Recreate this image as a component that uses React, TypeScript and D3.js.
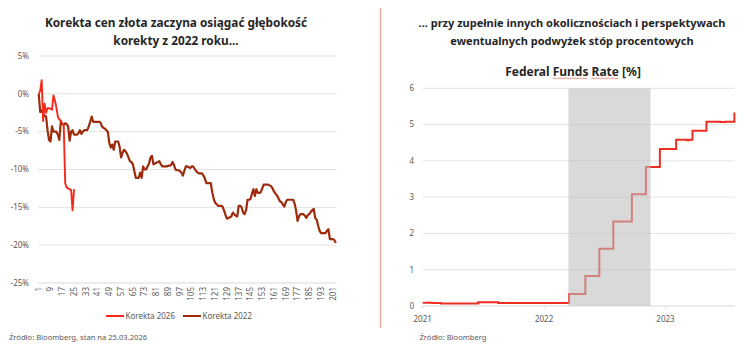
import React, { useLayoutEffect, useRef, useState } from "react";
import * as d3 from "d3";

// ---------- LEFT CHART DATA ----------
const korekta2026 = [
  0, 0.4, 1.8, -3.6, -1.3, -2.5, -1.9, -1.9, -2.0, -2.1,
  -0.2, -0.9, -1.8, -3.0, -3.4, -3.5, -3.9, -4.2, -11.8, -12.4,
  -12.5, -12.6, -12.7, -15.4, -12.6,
];

const korekta2022 = [
  0, -2.4, -2.2, -2.6, -2.9, -3.0, -4.8, -6.1, -6.3, -4.3,
  -5.0, -5.0, -5.0, -5.4, -6.1, -3.7, -4.0, -4.1, -3.9, -4.0,
  -4.3, -6.2, -5.0, -4.8, -5.4, -5.4, -5.4, -5.2, -4.8, -5.3,
  -5.0, -4.8, -4.8, -4.8, -4.3, -3.7, -3.0, -3.7, -3.7, -3.7,
  -3.7, -3.7, -3.8, -4.3, -4.5, -4.6, -4.8, -5.0, -6.5, -7.1,
  -6.7, -7.4, -6.3, -6.3, -6.3, -7.0, -8.4, -7.8, -7.4, -7.6,
  -7.9, -8.4, -8.9, -9.0, -9.3, -10.2, -11.1, -11.1, -11.1, -10.4,
  -11.1, -9.6, -10.0, -10.0, -9.6, -9.2, -8.4, -8.2, -9.3, -9.2,
  -9.1, -9.0, -8.9, -9.3, -9.6, -9.6, -9.6, -9.6, -9.5, -9.5,
  -9.4, -9.0, -9.4, -10.0, -10.1, -10.1, -10.2, -10.4, -10.8, -10.2,
  -9.6, -9.6, -9.7, -9.8, -9.6, -9.6, -9.9, -10.2, -10.4, -10.5,
  -10.5, -10.5, -10.8, -11.2, -11.8, -11.8, -11.8, -11.8, -13.0, -13.9,
  -14.4, -14.6, -14.8, -14.8, -14.8, -14.9, -15.4, -16.0, -16.5, -16.4,
  -16.3, -16.2, -15.7, -15.9, -16.1, -16.2, -14.8, -14.8, -15.0, -15.7,
  -15.9, -15.4, -14.0, -14.0, -13.9, -13.2, -12.6, -13.5, -12.6, -13.1,
  -13.1, -13.0, -12.5, -12.0, -12.0, -12.0, -12.0, -12.1, -12.2, -12.5,
  -12.9, -13.2, -13.4, -13.8, -14.2, -14.3, -14.6, -14.9, -14.3, -14.0,
  -14.0, -14.0, -14.0, -14.0, -14.5, -15.4, -16.8, -16.2, -15.9, -15.9,
  -15.9, -16.1, -16.4, -16.0, -15.9, -15.6, -15.4, -15.2, -16.4, -16.6,
  -17.4, -18.1, -18.4, -18.4, -18.4, -18.4, -18.1, -17.9, -19.2, -19.2,
  -19.2, -19.3, -19.7,
];

const dayCategories = korekta2022.map((_, i) => String(i + 1));
const leftXTickLabels = [
  "1", "9", "17", "25", "33", "41", "49", "57", "65", "73", "81", "89", "97",
  "105", "113", "121", "129", "137", "145", "153", "161", "169", "177", "185",
  "193", "201",
];
const leftYTicks = [5, 0, -5, -10, -15, -20, -25];
const leftSeriesNames = ["Korekta 2026", "Korekta 2022"];

// ---------- RIGHT CHART DATA ----------
const fedDates = [
  "2021-01-01", "2021-01-29", "2021-02-25", "2021-06-17", "2021-08-16",
  "2022-03-17", "2022-05-05", "2022-06-16", "2022-07-28", "2022-09-22",
  "2022-11-03", "2022-12-15", "2023-02-02", "2023-03-06", "2023-03-13",
  "2023-03-23", "2023-05-04", "2023-06-15", "2023-06-29", "2023-07-27",
];
const fedValues = [
  0.09, 0.08, 0.07, 0.1, 0.08,
  0.33, 0.83, 1.58, 2.33, 3.08,
  3.83, 4.33, 4.58, 4.57, 4.58,
  4.83, 5.08, 5.07, 5.08, 5.33,
];
const shadePeriod = ["2022-03-15", "2022-11-17"];
const rightDomain = ["2021-01-01", "2023-07-28"];
const rightYTicks = [0, 1, 2, 3, 4, 5, 6];
const rightXTicks = ["2021", "2022", "2023"];

const FONT = "'Noto Sans', 'Open Sans', sans-serif";
const GREY_TXT = "#595959";
const GRID = "#e3e3e3";
const RED = "#f32a1c";
const DARK = "#9d2b0c";
const FED_RED = "#ee2e22";

const parse = d3.timeParse("%Y-%m-%d");

const FED_TITLE = "Federal Funds Rate [%]";
const SPELL_WORDS = [
  [8, 12],
  [14, 17],
];

export default function App() {
  const fedRef = useRef<SVGTextElement>(null);
  const [squiggles, setSquiggles] = useState<string[]>([]);

  useLayoutEffect(() => {
    const el = fedRef.current;
    if (!el) return;
    const paths: string[] = [];
    SPELL_WORDS.forEach(([a, b]) => {
      const p0 = el.getStartPositionOfChar(a).x;
      const p1 = el.getEndPositionOfChar(b).x;
      const y = 78.8;
      let d = `M${p0},${y}`;
      let up = true;
      for (let x = p0 + 1.5; x <= p1; x += 1.5) {
        d += `L${x},${up ? y - 0.9 : y}`;
        up = !up;
      }
      paths.push(d);
    });
    setSquiggles(paths);
  }, []);

  // Left scales
  const xL = d3.scaleBand<string>().domain(dayCategories).range([38, 336.5]);
  const cx = (i: number) => (xL(String(i + 1)) as number) + xL.bandwidth() / 2;
  const yL = d3.scaleLinear().domain([-25, 5]).range([283, 56]);
  const lineL = d3
    .line<number>()
    .x((_, i) => cx(i))
    .y((d) => yL(d));

  // Right scales
  const xR = d3
    .scaleTime()
    .domain(rightDomain.map((s) => parse(s) as Date))
    .range([422.7, 734.7]);
  const yR = d3.scaleLinear().domain([0, 6]).range([306, 88.3]);
  const fedPts = fedDates.map((d, i) => ({ d: parse(d) as Date, v: fedValues[i] }));
  const lineR = d3
    .line<{ d: Date; v: number }>()
    .x((p) => xR(p.d))
    .y((p) => yR(p.v))
    .curve(d3.curveStepAfter);
  const s0 = xR(parse(shadePeriod[0]) as Date);
  const s1 = xR(parse(shadePeriod[1]) as Date);

  return (
    <svg
      width={756}
      height={345}
      style={{ position: "absolute", left: 0, top: 0, background: "#fff" }}
      fontFamily={FONT}
    >
      <rect x={0} y={0} width={756} height={345} fill="#fff" />

      {/* LEFT TITLE */}
      <text textAnchor="middle" fontWeight="bold" fontSize={11.8} fill="#262626">
        <tspan x={176} y={26.5}>Korekta cen złota zaczyna osiągać głębokość</tspan>
        <tspan x={176} y={44.5}>korekty z 2022 roku...</tspan>
      </text>

      {/* LEFT GRID */}
      {leftYTicks.map((t) => (
        <g key={"ly" + t}>
          <line x1={38} x2={336.5} y1={yL(t)} y2={yL(t)} stroke={t === -25 ? "#d9d9d9" : GRID} strokeWidth={1} />
          <text x={29} y={yL(t)} dy="0.35em" textAnchor="end" fontSize={8} fill={GREY_TXT}>
            {t + "%"}
          </text>
        </g>
      ))}
      {leftXTickLabels.map((l) => (
        <text
          key={"lx" + l}
          transform={`translate(${(xL(l) as number) + xL.bandwidth() / 2},287) rotate(-90)`}
          textAnchor="end"
          dy="0.35em"
          fontSize={8}
          fill={GREY_TXT}
        >
          {l}
        </text>
      ))}

      {/* LEFT LINES */}
      <path d={lineL(korekta2022) || ""} fill="none" stroke={DARK} strokeWidth={2.2} strokeLinejoin="round" />
      <path d={lineL(korekta2026) || ""} fill="none" stroke={RED} strokeWidth={1.9} strokeLinejoin="round" />

      {/* LEFT LEGEND */}
      <line x1={106} x2={124} y1={316} y2={316} stroke={RED} strokeWidth={2} />
      <text x={125.5} y={316} dy="0.35em" fontSize={8} fill={GREY_TXT}>{leftSeriesNames[0]}</text>
      <line x1={183} x2={201} y1={316} y2={316} stroke={DARK} strokeWidth={2} />
      <text x={202.5} y={316} dy="0.35em" fontSize={8} fill={GREY_TXT}>{leftSeriesNames[1]}</text>

      <text x={9} y={340} fontSize={7.6} fill={GREY_TXT}>Źródło: Bloomberg, stan na 25.03.2026</text>

      {/* DIVIDER */}
      <line x1={380.5} x2={380.5} y1={8} y2={328} stroke="#f2aaa4" strokeWidth={1.5} />

      {/* RIGHT TITLES */}
      <text textAnchor="middle" fontWeight="bold" fontSize={11} fill="#262626">
        <tspan x={572} y={26.5}>... przy zupełnie innych okolicznościach i perspektywach</tspan>
        <tspan x={572} y={44.5}>ewentualnych podwyżek stóp procentowych</tspan>
      </text>
      <text ref={fedRef} x={573} y={75.5} textAnchor="middle" fontWeight="bold" fontSize={12} fill="#262626">
        {FED_TITLE}
      </text>
      {squiggles.map((d, i) => (
        <path key={"sq" + i} d={d} fill="none" stroke="#e05a50" strokeWidth={0.7} />
      ))}

      {/* RIGHT GRID */}
      {rightYTicks.map((t) => (
        <g key={"ry" + t}>
          <line x1={422.7} x2={734.7} y1={yR(t)} y2={yR(t)} stroke={t === 0 ? "#d9d9d9" : GRID} strokeWidth={1} />
          <text x={414} y={yR(t)} dy="0.35em" textAnchor="end" fontSize={8} fill={GREY_TXT}>
            {t}
          </text>
        </g>
      ))}
      {rightXTicks.map((y) => {
        const xx = xR(parse(y + "-01-01") as Date);
        return (
          <g key={"rx" + y}>
            <line x1={xx} x2={xx} y1={306} y2={309} stroke="#d9d9d9" />
            <text x={xx} y={322} textAnchor="middle" fontSize={8} fill={GREY_TXT}>
              {y}
            </text>
          </g>
        );
      })}

      <path d={lineR(fedPts) || ""} fill="none" stroke={FED_RED} strokeWidth={2} />
      <rect x={s0} y={yR(6)} width={s1 - s0} height={yR(0) - yR(6)} fill="#bdbdbd" opacity={0.58} />

      <text x={419.5} y={340} fontSize={7.6} fill={GREY_TXT}>Źródło: Bloomberg</text>
    </svg>
  );
}
